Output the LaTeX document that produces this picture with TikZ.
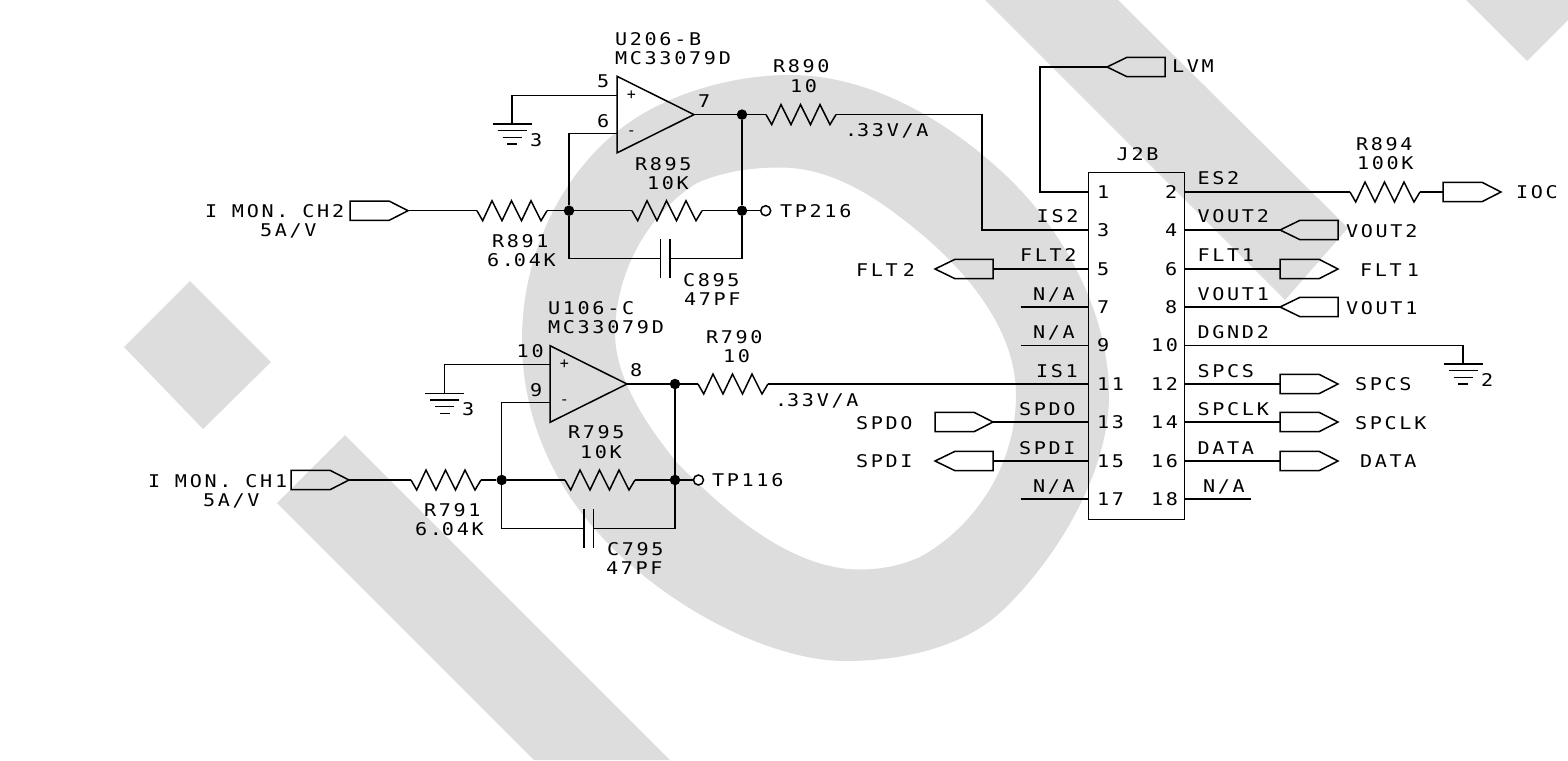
\documentclass[tikz,border=0pt]{standalone}
\usepackage{fontspec}
\newfontfamily\sch[LetterSpace=15.5,FakeStretch=1.15]{DejaVu Sans Mono}
\newfontfamily\schs{DejaVu Sans Mono}
\definecolor{wm}{RGB}{221,221,221}
\tikzset{
  wire/.style={line width=1.5pt,line join=miter,black},
  lbl/.style={anchor=base west,inner sep=0pt,outer sep=0pt,font=\sch\fontsize{17.5}{17.5}\selectfont,black},
  sign/.style={anchor=center,inner sep=0pt,font=\schs\fontsize{15}{15}\selectfont},
  jdot/.style={circle,fill=black,inner sep=0pt,minimum size=10.5pt,outer sep=0pt},
  tp/.style={circle,draw=black,line width=1.5pt,fill=white,inner sep=0pt,minimum size=10pt,outer sep=0pt},
  wmark/.style={fill=wm,draw=none},
  res/.pic={\draw[wire] (0,0)--(5.7,10)--(15,-10)--(25,10)--(34.5,-10)--(44.5,10)--(54,-10)--(64,10)--(70,0);},
  flagR/.pic={\draw[wire] (0,-9.7)--(39,-9.7)--(58,0)--(39,9.7)--(0,9.7)--cycle;},
  flagL/.pic={\draw[wire] (0,0)--(20,-9.7)--(58,-9.7)--(58,9.7)--(20,9.7)--cycle;},
  gnd/.pic={\draw[wire] (-19.5,0)--(19.5,0) (-14.5,6.7)--(14.5,6.7) (-9.5,13.3)--(9.5,13.3) (-5,20)--(5,20);},
  opamp/.pic={\draw[wire] (0,0)--(0,76.6)--(77,38.3)--cycle;},
  capv/.pic={\draw[wire] (0,-19.5)--(0,19.5) (9.7,-19.5)--(9.7,19.5);}
}
\newcommand\tlab[4]{\node[lbl] (#1) at (#2,#3) {#4};}
\begin{document}
\begin{tikzpicture}[x=1pt,y=-1pt]
\path[use as bounding box,fill=white] (0,0) rectangle (1568,760);
% watermark
\fill[wmark] (345,435)--(670,760)--(534,760)--(277,503)--cycle;
\fill[wmark] (190,281)--(271,362)--(203,429)--(124,347)--cycle;
\fill[wmark] (985,0)--(1118,0)--(1348,228)--(1285,300)--cycle;
\fill[wmark] (1466,0)--(1568,0)--(1568,20)--(1527,61)--cycle;
\fill[wmark,even odd rule]
 (790,75) .. controls (870,75) and (945,120) .. (1000,170)
 .. controls (1060,224) and (1109,310) .. (1109,395)
 .. controls (1109,470) and (1060,555) .. (1003,610)
 .. controls (966,646) and (905,661) .. (845,661)
 .. controls (770,661) and (660,605) .. (593,527)
 .. controls (548,475) and (522,410) .. (522,340)
 .. controls (522,250) and (565,170) .. (623,127)
 .. controls (665,95) and (730,75) .. (790,75) -- cycle
 (780,167.5) .. controls (825,167.5) and (865,190) .. (900,217)
 .. controls (960,262) and (1016,325) .. (1016,395)
 .. controls (1016,470) and (970,530) .. (920,557)
 .. controls (900,566) and (880,569.5) .. (860,569.5)
 .. controls (790,569.5) and (725,511) .. (677,463)
 .. controls (655,435) and (616,385) .. (615,335)
 .. controls (615,270) and (650,212) .. (697,183)
 .. controls (722,172) and (750,167.5) .. (780,167.5) -- cycle;

% connector body
\node[draw=black,line width=1.5pt,minimum width=96pt,minimum height=347pt,inner sep=0pt,outer sep=0pt,anchor=north west] (J) at (1088.3,172.3) {};
\foreach \n/\y in {1/192,3/230,5/269,7/307,9/345.5,11/384,13/422,15/461,17/499}{\coordinate (p\n) at (1088.3,\y);}
\foreach \n/\y in {2/192,4/230,6/269,8/307,10/345.5,12/384,14/422,16/461,18/499}{\coordinate (p\n) at (1184.3,\y);}

% upper channel
\pic at (617,76.3) {opamp};
\coordinate (uP) at (617,95.3);
\coordinate (uN) at (617,133.3);
\coordinate (uO) at (694,114.6);
\coordinate (uG) at (512,95.3);
\coordinate (uGt) at (512,124);
\pic at (uGt) {gnd};
\draw[wire] (uP)--(uG)--(uGt);
\node[jdot] (dA) at (742,114.6) {};
\node[jdot] (dB) at (569,210.7) {};
\node[jdot] (dC) at (742,210.7) {};
\node[tp] (tpU) at (765.7,210.7) {};
\coordinate (r890a) at (766,114.6);
\coordinate (r890b) at (836,114.6);
\pic at (r890a) {res};
\coordinate (k1) at (982,114.6);
\coordinate (k2) at (982,230);
\draw[wire] (uO)--(dA)--(r890a) (r890b)--(k1)--(k2)--(p3);
\coordinate (r895a) at (632,210.7);
\coordinate (r895b) at (702,210.7);
\pic at (r895a) {res};
\draw[wire] (dB)--(r895a) (r895b)--(dC)--(tpU) (dC)--(dA);
\coordinate (k3) at (569,133.3);
\draw[wire] (uN)--(k3)--(dB);
\coordinate (k4) at (569,258.7);
\coordinate (c895a) at (660.5,258.7);
\coordinate (c895b) at (670.2,258.7);
\coordinate (k5) at (742,258.7);
\pic at (c895a) {capv};
\draw[wire] (dB)--(k4)--(c895a) (c895b)--(k5)--(dC);
\coordinate (r891a) at (477,210.7);
\coordinate (r891b) at (547,210.7);
\pic at (r891a) {res};
\pic at (350,210.7) {flagR};
\coordinate (fCH2) at (408,210.7);
\draw[wire] (fCH2)--(r891a) (r891b)--(dB);

% lower channel
\pic at (550,345.7) {opamp};
\coordinate (lP) at (550,364.3);
\coordinate (lN) at (550,402.7);
\coordinate (lO) at (627,384);
\coordinate (lG) at (444.5,364.3);
\coordinate (lGt) at (444.5,393.3);
\pic at (lGt) {gnd};
\draw[wire] (lP)--(lG)--(lGt);
\node[jdot] (dD) at (675,384) {};
\node[jdot] (dE) at (501.7,480) {};
\node[jdot] (dF) at (675,480) {};
\node[tp] (tpL) at (698.5,480) {};
\coordinate (r790a) at (698,384);
\coordinate (r790b) at (768,384);
\pic at (r790a) {res};
\draw[wire] (lO)--(dD)--(r790a) (r790b)--(p11);
\coordinate (r795a) at (565,480);
\coordinate (r795b) at (635,480);
\pic at (r795a) {res};
\draw[wire] (dE)--(r795a) (r795b)--(dF)--(tpL) (dF)--(dD);
\coordinate (k6) at (501.7,402.7);
\draw[wire] (lN)--(k6)--(dE);
\coordinate (k7) at (501.7,528.3);
\coordinate (c795a) at (584,528.3);
\coordinate (c795b) at (593.7,528.3);
\coordinate (k8) at (675,528.3);
\pic at (c795a) {capv};
\draw[wire] (dE)--(k7)--(c795a) (c795b)--(k8)--(dF);
\coordinate (r791a) at (411,480);
\coordinate (r791b) at (481,480);
\pic at (r791a) {res};
\pic at (291,480) {flagR};
\coordinate (fCH1) at (349,480);
\draw[wire] (fCH1)--(r791a) (r791b)--(dE);

% connector wiring
\coordinate (k9) at (1040,192);
\coordinate (k10) at (1040,67);
\coordinate (fLVM) at (1107,67);
\pic at (fLVM) {flagL};
\draw[wire] (p1)--(k9)--(k10)--(fLVM);
\coordinate (r894a) at (1350,192);
\coordinate (r894b) at (1420,192);
\pic at (r894a) {res};
\coordinate (fIOC) at (1443,192);
\pic at (fIOC) {flagR};
\draw[wire] (p2)--(r894a) (r894b)--(fIOC);
\coordinate (fV2) at (1280,230);
\pic at (fV2) {flagL};
\draw[wire] (p4)--(fV2);
\coordinate (fF1) at (1280,269);
\pic at (fF1) {flagR};
\draw[wire] (p6)--(fF1);
\coordinate (fV1) at (1280,307);
\pic at (fV1) {flagL};
\draw[wire] (p8)--(fV1);
\coordinate (fSC) at (1280,384);
\pic at (fSC) {flagR};
\draw[wire] (p12)--(fSC);
\coordinate (fSK) at (1280,422);
\pic at (fSK) {flagR};
\draw[wire] (p14)--(fSK);
\coordinate (fDA) at (1280,461);
\pic at (fDA) {flagR};
\draw[wire] (p16)--(fDA);
\coordinate (k11) at (1463,345.5);
\coordinate (gJ) at (1463,364);
\pic at (gJ) {gnd};
\draw[wire] (p10)--(k11)--(gJ);
\coordinate (fF2) at (993,269);
\pic at (935,269) {flagL};
\draw[wire] (p5)--(fF2);
\coordinate (fSO) at (993,422);
\pic at (935,422) {flagR};
\draw[wire] (p13)--(fSO);
\coordinate (fSI) at (993,461);
\pic at (935,461) {flagL};
\draw[wire] (p15)--(fSI);
\coordinate (n7) at (1021,307);
\coordinate (n9) at (1021,345.5);
\coordinate (n17) at (1021,499);
\coordinate (n18) at (1251,499);
\draw[wire] (n7)--(p7) (n9)--(p9) (n17)--(p17) (p18)--(n18);

% opamp signs
\node[sign] (sA) at (631.5,95) {+};
\node[sign] (sB) at (631.5,133) {-};
\node[sign] (sC) at (564.5,364) {+};
\node[sign] (sD) at (564.5,402.5) {-};

% texts
\tlab{a1}{615}{46}{U206-B}
\tlab{a2}{615}{64.5}{MC33079D}
\tlab{a3}{773}{73}{R890}
\tlab{a4}{790}{92.5}{10}
\tlab{a5}{845}{136.5}{.\hspace{0pt}33V/A}
\tlab{a6}{597}{88}{5}
\tlab{a7}{597}{127}{6}
\tlab{a8}{698}{107}{7}
\tlab{a9}{635}{170}{R895}
\tlab{a10}{647}{189}{10K}
\tlab{a11}{492}{247}{R891}
\tlab{a12}{487}{266}{6.\hspace{0pt}04K}
\tlab{a13}{683}{286}{C895}
\tlab{a14}{684}{305}{47PF}
\tlab{a15}{780}{217}{TP216}
\tlab{a16}{530}{146}{3}
\tlab{a17}{205}{217}{I MON.\hspace{-1pt} CH2}
\tlab{a18}{260}{236}{5A/V}

\tlab{b1}{548}{314}{U106-C}
\tlab{b2}{548}{333}{MC33079D}
\tlab{b3}{706}{343}{R790}
\tlab{b4}{723}{362}{10}
\tlab{b5}{775}{406}{.\hspace{0pt}33V/A}
\tlab{b6}{516.7}{357}{10}
\tlab{b7}{530}{396}{9}
\tlab{b8}{630}{376}{8}
\tlab{b9}{568}{438}{R795}
\tlab{b10}{580}{458}{10K}
\tlab{b11}{424}{516}{R791}
\tlab{b12}{415}{535}{6.\hspace{0pt}04K}
\tlab{b13}{607}{555}{C795}
\tlab{b14}{606}{574}{47PF}
\tlab{b15}{712}{486}{TP116}
\tlab{b16}{462}{415}{3}
\tlab{b17}{148}{487}{I MON.\hspace{-1pt} CH1}
\tlab{b18}{203}{506}{5A/V}

\tlab{c1}{1116.7}{160.7}{J2B}
\foreach \n/\y in {1/198,3/236,5/275,7/313,9/351.5}{\tlab{nl\n}{1097}{\y}{\n}}
\foreach \n/\y in {11/390,13/428,15/467,17/505}{\tlab{nl\n}{1097}{\y}{\n}}
\foreach \n/\y in {2/198,4/236,6/275,8/313}{\tlab{nr\n}{1165}{\y}{\n}}
\foreach \n/\y in {10/351.5,12/390,14/428,16/467,18/505}{\tlab{nr\n}{1151}{\y}{\n}}
\tlab{l3}{1036.7}{222.7}{IS2}
\tlab{l5}{1020}{261.7}{FLT2}
\tlab{l7}{1033}{300}{N/A}
\tlab{l9}{1033}{338.7}{N/A}
\tlab{l11}{1036}{377}{IS1}
\tlab{l13}{1019}{415}{SPDO}
\tlab{l15}{1019}{454}{SPDI}
\tlab{l17}{1033}{492}{N/A}
\tlab{r2}{1197.5}{184}{ES2}
\tlab{r4}{1197.5}{222.7}{VOUT2}
\tlab{r6}{1197.5}{261.7}{FLT1}
\tlab{r8}{1197.5}{300}{VOUT1}
\tlab{r10}{1197.5}{338.7}{DGND2}
\tlab{r12}{1197.5}{377}{SPCS}
\tlab{r14}{1197.5}{415}{SPCLK}
\tlab{r16}{1197.5}{454}{DATA}
\tlab{r18}{1203}{492}{N/A}

\tlab{d1}{1172}{73}{LVM}
\tlab{d2}{1356}{150}{R894}
\tlab{d3}{1357}{169}{100K}
\tlab{d4}{1516}{198}{IOC}
\tlab{d5}{1346}{237}{VOUT2}
\tlab{d6}{1360}{276}{FLT\hspace{5pt}1}
\tlab{d7}{1346}{314}{VOUT1}
\tlab{d8}{1481}{386}{2}
\tlab{d9}{1355}{390}{SPCS}
\tlab{d10}{1355}{429}{SPCLK}
\tlab{d11}{1360}{467}{DATA}
\tlab{d12}{856}{276}{FLT\hspace{5pt}2}
\tlab{d13}{856}{429}{SPDO}
\tlab{d14}{856}{467}{SPDI}
\end{tikzpicture}
\end{document}
